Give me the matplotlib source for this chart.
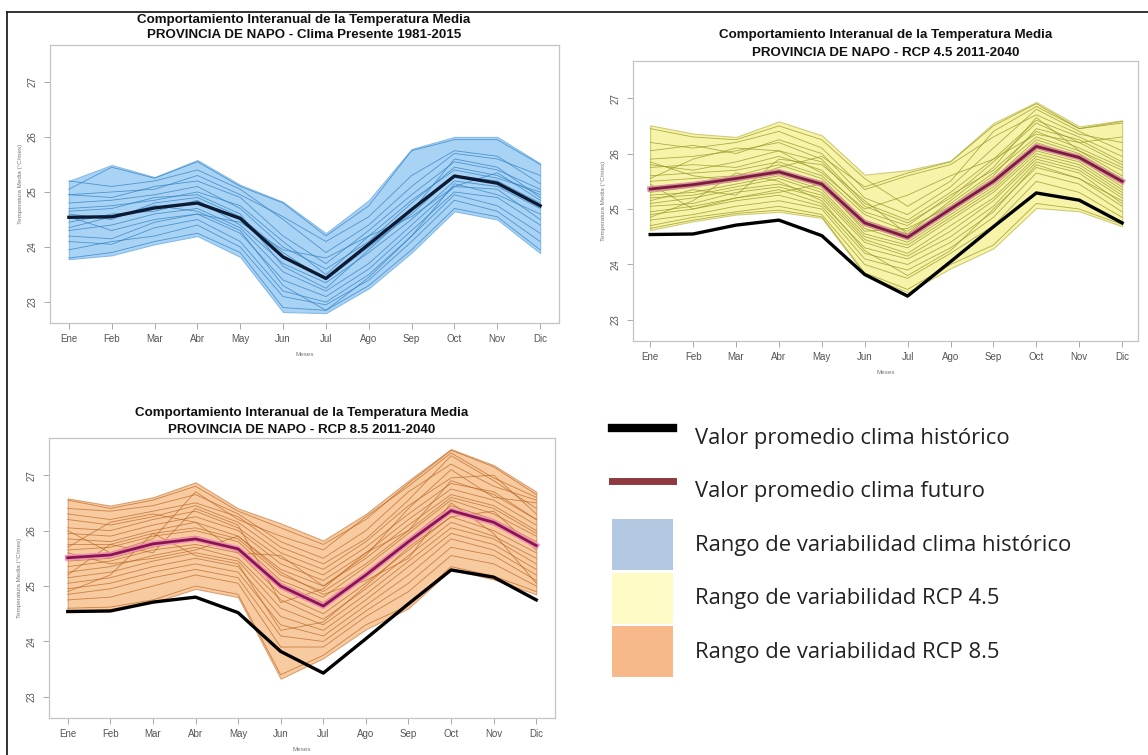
import numpy as np
import matplotlib
matplotlib.use("Agg")
import matplotlib.pyplot as plt
from matplotlib.lines import Line2D
from matplotlib.patches import Patch

# ---------------- data ----------------
months = ["Ene", "Feb", "Mar", "Abr", "May", "Jun", "Jul", "Ago", "Sep", "Oct", "Nov", "Dic"]
yticks = [23, 24, 25, 26, 27]

hist_mean = [24.54, 24.55, 24.71, 24.80, 24.52, 23.82, 23.43, 24.05, 24.68, 25.29, 25.16, 24.75]
hist_upper = [25.20, 25.49, 25.27, 25.58, 25.13, 24.82, 24.25, 24.85, 25.78, 26.00, 26.00, 25.52]
hist_lower = [23.78, 23.85, 24.05, 24.20, 23.82, 22.82, 22.80, 23.25, 23.90, 24.65, 24.50, 23.89]
hist_members = [
    [25.20, 25.10, 25.20, 25.40, 25.05, 24.50, 23.90, 24.40, 25.10, 25.70, 25.60, 25.30],
    [25.05, 25.45, 25.25, 25.55, 25.10, 24.80, 24.20, 24.75, 25.75, 25.95, 25.95, 25.50],
    [24.95, 24.90, 25.10, 25.20, 24.90, 24.20, 23.70, 24.30, 24.95, 25.55, 25.40, 25.05],
    [24.80, 24.85, 24.95, 25.10, 24.70, 24.00, 23.60, 24.10, 24.80, 25.45, 25.30, 24.95],
    [24.70, 24.75, 24.85, 25.00, 24.75, 24.10, 23.50, 24.20, 24.85, 25.40, 25.25, 25.00],
    [24.60, 24.50, 24.80, 24.90, 24.55, 23.90, 23.40, 24.00, 24.60, 25.30, 25.20, 24.80],
    [24.45, 24.60, 24.65, 24.85, 24.40, 23.70, 23.35, 23.90, 24.50, 25.20, 25.10, 24.70],
    [24.30, 24.40, 24.60, 24.70, 24.35, 23.55, 23.20, 23.70, 24.40, 25.10, 25.05, 24.50],
    [24.20, 24.15, 24.45, 24.60, 24.25, 23.40, 23.10, 23.60, 24.30, 25.00, 24.90, 24.40],
    [24.10, 24.05, 24.35, 24.50, 24.10, 23.20, 23.00, 23.50, 24.20, 24.95, 24.75, 24.25],
    [23.95, 24.10, 24.20, 24.40, 24.00, 23.10, 22.95, 23.40, 24.10, 24.85, 24.65, 24.10],
    [23.80, 23.90, 24.10, 24.25, 23.90, 22.90, 22.85, 23.30, 23.95, 24.70, 24.55, 23.95],
    [24.55, 24.30, 24.50, 24.60, 24.45, 23.95, 23.80, 24.20, 24.55, 25.10, 25.35, 24.85],
    [24.35, 24.55, 24.75, 24.65, 24.30, 23.30, 22.85, 23.45, 24.20, 25.15, 24.95, 24.60],
    [24.95, 25.00, 25.05, 25.30, 24.95, 24.55, 24.10, 24.55, 25.30, 25.75, 25.65, 25.15],
    [24.65, 24.70, 24.90, 24.95, 24.60, 23.65, 23.25, 23.95, 24.65, 25.60, 25.45, 24.90],
]

rcp45_mean = [25.36, 25.44, 25.55, 25.67, 25.45, 24.75, 24.49, 25.00, 25.50, 26.13, 25.93, 25.50]
rcp45_upper = [26.51, 26.36, 26.30, 26.58, 26.33, 25.62, 25.70, 25.87, 26.55, 26.93, 26.49, 26.60]
rcp45_lower = [24.62, 24.78, 24.90, 24.95, 24.84, 23.82, 23.50, 23.93, 24.29, 25.02, 24.96, 24.69]
rcp45_members = [
    [26.45, 26.30, 26.25, 26.50, 26.25, 25.55, 25.05, 25.50, 26.40, 26.85, 26.45, 26.55],
    [26.20, 26.10, 26.20, 26.40, 26.10, 25.35, 25.60, 25.80, 26.30, 26.70, 26.35, 26.20],
    [26.05, 26.15, 26.00, 26.25, 26.00, 25.20, 24.90, 25.40, 26.10, 26.80, 26.40, 26.05],
    [25.90, 25.95, 26.05, 26.20, 25.90, 25.10, 24.80, 25.30, 25.90, 26.60, 26.30, 25.95],
    [25.80, 25.70, 25.85, 26.05, 25.85, 25.05, 24.75, 25.20, 25.85, 26.55, 26.20, 25.80],
    [25.75, 25.80, 25.75, 25.95, 25.70, 24.95, 24.70, 25.25, 25.70, 26.40, 26.10, 25.75],
    [25.60, 25.65, 25.70, 25.85, 25.60, 24.90, 24.60, 25.10, 25.65, 26.30, 26.05, 25.60],
    [25.50, 25.55, 25.60, 25.80, 25.55, 24.80, 24.55, 25.00, 25.55, 26.25, 26.00, 25.55],
    [25.40, 25.45, 25.55, 25.70, 25.50, 24.70, 24.45, 24.95, 25.45, 26.20, 25.95, 25.45],
    [25.30, 25.40, 25.50, 25.65, 25.40, 24.65, 24.40, 24.90, 25.40, 26.10, 25.90, 25.40],
    [25.25, 25.30, 25.45, 25.60, 25.35, 24.55, 24.35, 24.85, 25.35, 26.05, 25.85, 25.35],
    [25.20, 25.25, 25.40, 25.55, 25.30, 24.50, 24.30, 24.80, 25.30, 26.00, 25.80, 25.30],
    [25.10, 25.20, 25.35, 25.45, 25.25, 24.45, 24.20, 24.70, 25.20, 25.95, 25.75, 25.25],
    [25.05, 25.10, 25.30, 25.40, 25.20, 24.40, 24.15, 24.60, 25.15, 25.90, 25.70, 25.20],
    [24.95, 25.05, 25.20, 25.35, 25.10, 24.30, 24.10, 24.50, 25.05, 25.85, 25.65, 25.10],
    [24.90, 25.00, 25.15, 25.25, 25.05, 24.20, 24.00, 24.40, 24.95, 25.80, 25.55, 25.05],
    [24.80, 24.90, 25.05, 25.15, 25.00, 24.10, 23.90, 24.30, 24.85, 25.65, 25.45, 24.95],
    [24.70, 24.85, 24.95, 25.05, 24.90, 24.00, 23.75, 24.20, 24.70, 25.50, 25.30, 24.85],
    [24.65, 24.80, 24.92, 24.98, 24.86, 23.85, 23.55, 24.00, 24.35, 25.10, 25.00, 24.72],
    [25.85, 25.60, 25.50, 25.75, 25.95, 25.40, 25.65, 25.85, 26.50, 26.90, 26.45, 26.58],
    [25.55, 25.90, 26.10, 26.05, 25.65, 25.00, 25.25, 25.60, 25.90, 26.35, 26.20, 26.30],
    [25.15, 25.35, 25.25, 25.90, 25.80, 25.15, 24.55, 25.15, 25.75, 26.65, 26.05, 25.70],
    [24.85, 25.15, 25.65, 25.50, 25.15, 24.25, 23.80, 24.25, 25.00, 25.75, 25.55, 25.15],
    [25.45, 25.00, 25.20, 25.30, 25.45, 24.60, 24.65, 25.05, 25.60, 26.45, 26.25, 25.85],
]

rcp85_mean = [25.51, 25.56, 25.76, 25.85, 25.67, 25.00, 24.64, 25.20, 25.80, 26.36, 26.15, 25.73]
rcp85_upper = [26.58, 26.45, 26.60, 26.87, 26.40, 26.13, 25.82, 26.30, 26.90, 27.47, 27.18, 26.70]
rcp85_lower = [24.55, 24.58, 24.70, 24.95, 24.80, 23.33, 23.70, 24.22, 24.60, 25.30, 25.12, 24.85]
rcp85_members = [
    [26.55, 26.40, 26.55, 26.80, 26.35, 26.05, 25.75, 26.20, 26.85, 27.45, 27.15, 26.65],
    [26.40, 26.35, 26.45, 26.65, 26.30, 25.80, 25.50, 26.00, 26.70, 27.20, 26.80, 26.55],
    [26.30, 26.20, 26.35, 26.50, 26.25, 25.70, 25.40, 25.85, 26.55, 27.35, 26.90, 26.40],
    [26.20, 26.10, 26.25, 26.45, 26.15, 25.60, 25.30, 25.80, 26.45, 26.95, 27.00, 26.30],
    [26.05, 26.00, 26.20, 26.35, 26.05, 25.50, 25.20, 25.70, 26.30, 26.85, 26.70, 26.20],
    [25.95, 25.90, 26.10, 26.25, 26.00, 25.40, 25.10, 25.60, 26.20, 26.75, 26.55, 26.10],
    [25.85, 25.80, 26.00, 26.15, 25.90, 25.30, 25.00, 25.50, 26.10, 26.65, 26.45, 26.00],
    [25.75, 25.75, 25.95, 26.05, 25.85, 25.20, 24.90, 25.40, 26.00, 26.60, 26.40, 25.95],
    [25.65, 25.70, 25.90, 26.00, 25.80, 25.10, 24.80, 25.35, 25.95, 26.55, 26.30, 25.90],
    [25.55, 25.60, 25.80, 25.90, 25.70, 25.05, 24.70, 25.25, 25.85, 26.45, 26.20, 25.80],
    [25.45, 25.50, 25.70, 25.85, 25.65, 24.95, 24.60, 25.15, 25.75, 26.35, 26.10, 25.70],
    [25.35, 25.45, 25.65, 25.75, 25.60, 24.85, 24.50, 25.05, 25.65, 26.25, 26.00, 25.60],
    [25.25, 25.35, 25.55, 25.70, 25.50, 24.75, 24.40, 24.95, 25.55, 26.15, 25.90, 25.50],
    [25.15, 25.25, 25.45, 25.60, 25.45, 24.60, 24.30, 24.85, 25.45, 26.05, 25.85, 25.40],
    [25.05, 25.15, 25.35, 25.50, 25.35, 24.45, 24.20, 24.75, 25.35, 25.95, 25.75, 25.30],
    [24.95, 25.05, 25.25, 25.40, 25.25, 24.30, 24.10, 24.65, 25.20, 25.85, 25.65, 25.20],
    [24.85, 24.95, 25.15, 25.30, 25.15, 24.10, 24.00, 24.55, 25.05, 25.70, 25.55, 25.10],
    [24.75, 24.80, 25.00, 25.20, 25.05, 23.90, 23.90, 24.45, 24.90, 25.55, 25.40, 25.00],
    [24.60, 24.62, 24.75, 25.00, 24.85, 23.40, 23.75, 24.30, 24.65, 25.35, 25.18, 24.90],
    [26.00, 25.60, 25.85, 26.70, 26.20, 25.90, 25.65, 26.25, 26.80, 27.40, 26.95, 26.60],
    [25.70, 26.15, 26.30, 26.15, 25.60, 25.55, 25.00, 25.55, 26.40, 27.10, 26.60, 26.50],
    [25.20, 25.75, 25.60, 26.40, 26.10, 24.70, 24.95, 25.60, 26.00, 26.90, 26.65, 26.20],
    [24.90, 25.20, 25.95, 25.55, 25.40, 24.20, 24.35, 25.00, 25.70, 26.25, 26.35, 25.65],
    [25.60, 25.40, 25.50, 25.65, 25.90, 25.25, 24.85, 25.10, 25.50, 26.50, 25.95, 25.05],
]

title_line1 = "Comportamiento Interanual de la Temperatura Media"
titles_line2 = ["PROVINCIA DE NAPO - Clima Presente 1981-2015",
                "PROVINCIA DE NAPO - RCP 4.5 2011-2040",
                "PROVINCIA DE NAPO - RCP 8.5 2011-2040"]
xlabel = "Meses"
ylabel = "Temperatura Media (°C/mes)"

legend_labels = ["Valor promedio clima histórico",
                 "Valor promedio clima futuro",
                 "Rango de variabilidad clima histórico",
                 "Rango de variabilidad RCP 4.5",
                 "Rango de variabilidad RCP 8.5"]

# ---------------- figure ----------------
W, H = 1148, 755
fig = plt.figure(figsize=(W / 100, H / 100), dpi=100)
fig.patch.set_facecolor("white")

x = np.arange(1, 13)
TFONT = ["Liberation Sans", "DejaVu Sans"]


def px_axes(l, t, r, b):
    return fig.add_axes([l / W, 1 - b / H, (r - l) / W, (b - t) / H])


def style_axes(ax, xlim):
    ax.set_xlim(*xlim)
    ax.set_ylim(22.62, 27.67)
    ax.set_xticks(x)
    ax.set_xticklabels(months, fontsize=7, color="#555555", family=TFONT)
    ax.set_yticks(yticks)
    ax.set_yticklabels([str(v) for v in yticks], rotation=90, va="center",
                       fontsize=7, color="#555555", family=TFONT)
    ax.tick_params(axis="x", length=4, width=0.6, color="#999999", pad=4)
    ax.tick_params(axis="y", length=4, width=0.6, color="#999999", pad=5)
    for s in ax.spines.values():
        s.set_color("#c4c4c4")
        s.set_linewidth(0.9)
    ax.set_xlabel(xlabel, fontsize=4.5, color="#777777", labelpad=6, family=TFONT)
    ax.set_ylabel(ylabel, fontsize=4.5, color="#777777", labelpad=3, family=TFONT)


def panel(box, xlim, members, lower, upper, fill, edge, mcol, malpha, mean_hist,
          mean_fut=None, fut_col=None, halo=None, hist_col="black", hist_lw=2.4):
    ax = px_axes(*box)
    ax.fill_between(x, lower, upper, color=fill, ec=edge, lw=0.8, zorder=1)
    for m in members:
        ax.plot(x, m, color=mcol, lw=0.6, alpha=malpha, zorder=2)
    ax.plot(x, mean_hist, color=hist_col, lw=hist_lw, zorder=4,
            solid_joinstyle="round")
    if mean_fut is not None:
        ax.plot(x, mean_fut, color=halo, lw=4.2, alpha=0.9, zorder=4,
                solid_joinstyle="round")
        ax.plot(x, mean_fut, color=fut_col, lw=2.0, zorder=5,
                solid_joinstyle="round")
    style_axes(ax, xlim)
    return ax


# Panel 1: historical
panel((50, 45, 559, 323), (0.56, 12.44), hist_members, hist_lower, hist_upper,
      "#a9d3f5", "#86bbe8", "#2f7fc0", 0.75, hist_mean, hist_col="#0c1a33", hist_lw=2.4)
# Panel 2: RCP 4.5
panel((633, 61, 1138, 341), (0.60, 12.37), rcp45_members, rcp45_lower, rcp45_upper,
      "#f7f4aa", "#cfcc78", "#9a9a2a", 0.8, hist_mean, rcp45_mean, "#7a1d3c", "#d98aa0")
# Panel 3: RCP 8.5
panel((49, 438, 555, 718), (0.56, 12.44), rcp85_members, rcp85_lower, rcp85_upper,
      "#f7ca9f", "#dba070", "#b8621f", 0.7, hist_mean, rcp85_mean, "#8a1450", "#ee8fb8")

# Titles
for cx, y1, y2, t2 in [(304, 20, 35, titles_line2[0]),
                       (886, 35, 53, titles_line2[1]),
                       (302, 413, 430, titles_line2[2])]:
    fig.text(cx / W, 1 - y1 / H, title_line1, ha="center", va="center",
             fontsize=9.6, fontweight="bold", color="#111111", family=TFONT)
    fig.text(cx / W, 1 - y2 / H, t2, ha="center", va="center",
             fontsize=9.6, fontweight="bold", color="#111111", family=TFONT)

# Legend
LFS = 15.8
fpx = LFS * 100 / 72
row_h = 51.0
hh = (row_h / fpx - 0.245) / 0.65
handles = [Line2D([], [], color="black", lw=6),
           Line2D([], [], color="#8e3a3f", lw=5),
           Patch(facecolor="#b3c9e2", edgecolor="none"),
           Patch(facecolor="#fffbc6", edgecolor="none"),
           Patch(facecolor="#f8b98a", edgecolor="none")]
leg = fig.legend(handles, legend_labels, loc="upper left",
                 bbox_to_anchor=(612 / W, 1 - 412 / H), frameon=False,
                 prop={"family": ["Open Sans", "DejaVu Sans"], "size": LFS},
                 handlelength=61 / fpx, handleheight=hh,
                 handletextpad=22 / fpx, labelspacing=2.5 / fpx,
                 borderpad=0, borderaxespad=0)
for t in leg.get_texts():
    t.set_color("#222222")

# Outer frame (top and left edges)
fig.add_artist(Line2D([7 / W, 1], [1 - 11.5 / H, 1 - 11.5 / H],
                      transform=fig.transFigure, color="#222222", lw=1.3))
fig.add_artist(Line2D([7 / W, 7 / W], [0, 1 - 11.5 / H],
                      transform=fig.transFigure, color="#222222", lw=1.3))

fig.savefig("out.png", dpi=100)
